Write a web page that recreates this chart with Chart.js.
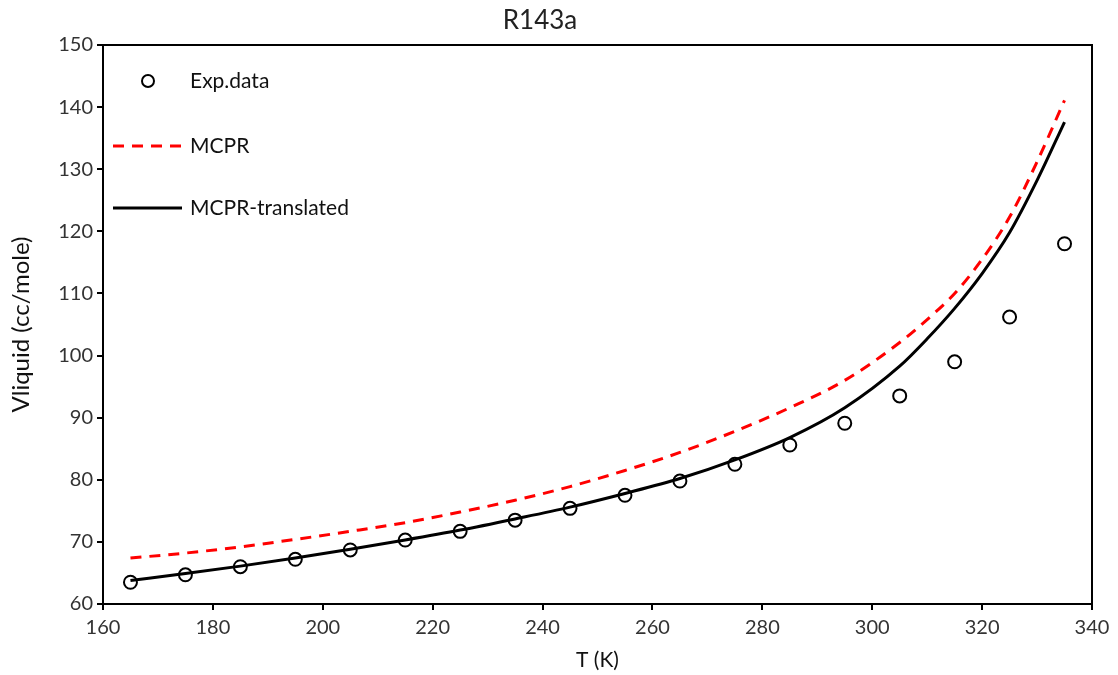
<!DOCTYPE html>
<html>
<head>
<meta charset="utf-8">
<script src="https://cdn.jsdelivr.net/npm/chart.js@4"></script>
<style>
  html, body { margin: 0; padding: 0; background: #fff; }
  #wrap { width: 1118px; height: 675px; position: relative; }
</style>
</head>
<body>
<div id="wrap"><canvas id="chart"></canvas></div>
<script>
// 数据：温度 (K) 与液体摩尔体积 (cc/mole)
const expT = [165, 175, 185, 195, 205, 215, 225, 235, 245, 255, 265, 275, 285, 295, 305, 315, 325, 335]
const expV = [63.5, 64.7, 66.0, 67.2, 68.7, 70.3, 71.7, 73.5, 75.4, 77.5, 79.8, 82.5, 85.6, 89.1, 93.5, 99.0, 106.2, 118.0]

const modelT = [165, 175, 185, 195, 205, 215, 225, 235, 245, 255, 265, 275, 285, 295, 305, 310, 315, 320, 325, 330, 335]
const mcprV = [67.4, 68.2, 69.2, 70.4, 71.7, 73.1, 74.8, 76.7, 78.9, 81.5, 84.4, 87.8, 91.6, 96.0, 102.1, 105.8, 110.0, 115.5, 122.3, 131.2, 141.1]
const mcprTransV = [63.8, 64.9, 66.1, 67.4, 68.8, 70.3, 71.9, 73.7, 75.6, 77.8, 80.2, 83.2, 86.8, 91.6, 98.3, 102.7, 107.6, 113.2, 119.8, 128.2, 137.6]

const xTicks = [160, 180, 200, 220, 240, 260, 280, 300, 320, 340]
const yTicks = [60, 70, 80, 90, 100, 110, 120, 130, 140, 150]

const FONT = "Lato, 'Noto Sans', sans-serif"
const toXY = (xs, ys) => xs.map((x, i) => ({ x: x, y: ys[i] }))

// 外框 + 标题 + 图例（图例在绘图区内）
const framePlugin = {
  id: "frame",
  afterDraw(chart) {
    const { ctx, chartArea: a } = chart
    ctx.save()
    ctx.strokeStyle = "#000"
    ctx.lineWidth = 2
    ctx.strokeRect(a.left, a.top, a.right - a.left, a.bottom - a.top)

    ctx.fillStyle = "#222"
    ctx.font = "26px " + FONT
    ctx.textAlign = "center"
    ctx.textBaseline = "middle"
    ctx.fillText("R143a", 540, 21)

    ctx.textAlign = "left"
    ctx.font = "21px " + FONT
    ctx.fillStyle = "#111"
    // Exp.data
    ctx.strokeStyle = "#000"
    ctx.lineWidth = 2
    ctx.beginPath()
    ctx.arc(148, 81, 6, 0, Math.PI * 2)
    ctx.stroke()
    ctx.fillText("Exp.data", 190, 81)
    // MCPR
    ctx.strokeStyle = "#ff0000"
    ctx.lineWidth = 3
    ctx.setLineDash([11, 8])
    ctx.beginPath()
    ctx.moveTo(113, 146)
    ctx.lineTo(182, 146)
    ctx.stroke()
    ctx.setLineDash([])
    ctx.fillText("MCPR", 190, 146)
    // MCPR-translated
    ctx.strokeStyle = "#000"
    ctx.beginPath()
    ctx.moveTo(113, 208)
    ctx.lineTo(182, 208)
    ctx.stroke()
    ctx.fillText("MCPR-translated", 190, 208)
    ctx.restore()
  }
}

new Chart(document.getElementById("chart"), {
  type: "scatter",
  data: {
    datasets: [
      {
        label: "Exp.data",
        data: toXY(expT, expV),
        showLine: false,
        pointStyle: "circle",
        pointRadius: 6.5,
        pointBorderWidth: 2,
        pointBorderColor: "#000",
        pointBackgroundColor: "rgba(0,0,0,0)"
      },
      {
        label: "MCPR",
        data: toXY(modelT, mcprV),
        showLine: true,
        borderColor: "#ff0000",
        borderWidth: 3,
        borderDash: [11, 8],
        pointRadius: 0,
        cubicInterpolationMode: "monotone"
      },
      {
        label: "MCPR-translated",
        data: toXY(modelT, mcprTransV),
        showLine: true,
        borderColor: "#000",
        borderWidth: 3,
        pointRadius: 0,
        cubicInterpolationMode: "monotone"
      }
    ]
  },
  options: {
    responsive: true,
    maintainAspectRatio: false,
    animation: false,
    layout: { padding: { top: 45, right: 26, left: 0, bottom: 0 } },
    plugins: {
      legend: { display: false },
      tooltip: { enabled: false }
    },
    scales: {
      x: {
        type: "linear",
        min: 160,
        max: 340,
        afterBuildTicks: (axis) => { axis.ticks = xTicks.map(v => ({ value: v })) },
        afterFit: (axis) => { axis.height = 71 },
        grid: { display: true, drawOnChartArea: false, drawTicks: true, tickLength: 6, color: "#000", lineWidth: 2 },
        border: { display: true, color: "#000", width: 2 },
        ticks: { color: "#333", font: { family: FONT, size: 20 }, padding: 6, maxRotation: 0 },
        title: { display: true, text: "T (K)", color: "#111", font: { family: FONT, size: 21 }, padding: { top: 0, bottom: 2 } }
      },
      y: {
        type: "linear",
        min: 60,
        max: 150,
        afterBuildTicks: (axis) => { axis.ticks = yTicks.map(v => ({ value: v })) },
        afterFit: (axis) => { axis.width = 103 },
        grid: { display: true, drawOnChartArea: false, drawTicks: true, tickLength: 6, color: "#000", lineWidth: 2 },
        border: { display: true, color: "#000", width: 2 },
        ticks: { color: "#333", font: { family: FONT, size: 20 }, padding: 4 },
        title: { display: true, text: "Vliquid (cc/mole)", color: "#111", font: { family: FONT, size: 24 }, padding: { top: 7, bottom: 0 } }
      }
    }
  },
  plugins: [framePlugin]
})
</script>
</body>
</html>
